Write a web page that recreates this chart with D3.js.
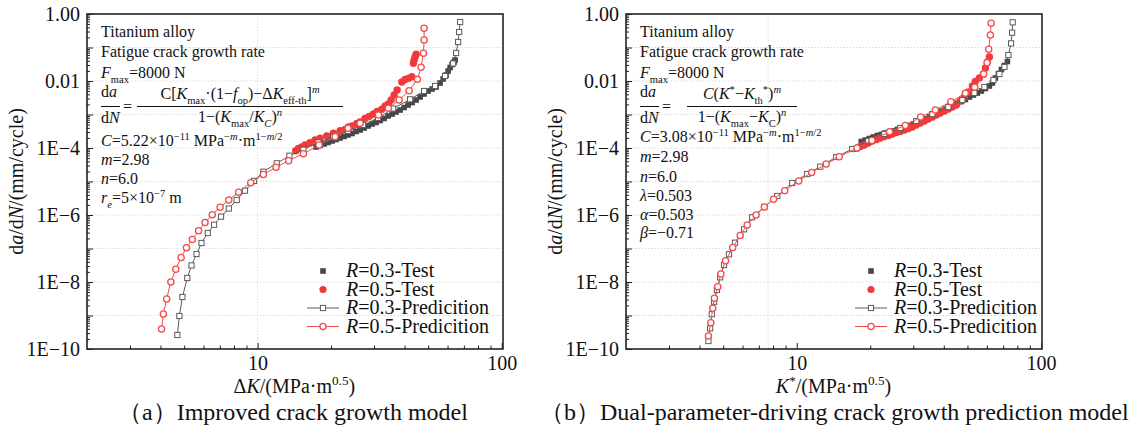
<!DOCTYPE html>
<html><head><meta charset="utf-8">
<script src="https://cdn.jsdelivr.net/npm/d3@7/dist/d3.min.js"></script>
<style>
body{margin:0;background:#fff}
svg{display:block}
text{font-family:"Liberation Serif","Times New Roman",serif;fill:#111}
</style>
</head><body>
<svg id="chart" width="1131" height="433"></svg>
<script>
// ---------- DATA ----------
const xMajorTicks = [10, 100];
const xMinorTicks = [3,4,5,6,7,8,9,20,30,40,50,60,70,80,90];
const yMajorTicks = [1,1e-1,1e-2,1e-3,1e-4,1e-5,1e-6,1e-7,1e-8,1e-9,1e-10];
const yLabelTicks = [1,1e-2,1e-4,1e-6,1e-8,1e-10];
const yTickLabels = ["1.00","0.01","1E\u22124","1E\u22126","1E\u22128","1E\u221210"];
const yGrid = [1e-1,1e-2,1e-3,1e-4,1e-5,1e-6,1e-7,1e-8,1e-9];
const xGridA = [10];
const xGridB = [7.64];

// Panel (a): improved crack growth model
const aPred03X = [4.69,4.78,4.92,5.15,5.36,5.62,5.89,6.25,6.63,7.08,7.62,8.21,8.88,9.67,10.56,11.98,13.50,15.40,17.74,20.38,23.48,27.05,31.16,35.91,42.15,48.10,53.37,58.66,63.24,65.06,66.30,66.93,67.57];
const aPred03Y = [2.62e-10,9.66e-10,3.57e-9,1.32e-8,3.11e-8,6.85e-8,1.46e-7,2.90e-7,5.13e-7,8.90e-7,1.56e-6,2.81e-6,5.31e-6,1.04e-5,1.96e-5,3.49e-5,5.89e-5,8.89e-5,1.48e-4,2.13e-4,3.22e-4,4.86e-4,7.86e-4,1.51e-3,2.84e-3,5.03e-3,7.09e-3,1.41e-2,3.33e-2,6.85e-2,0.146,0.290,0.577];
const aPred05X = [4.04,4.11,4.24,4.41,4.62,4.86,5.11,5.40,5.73,6.09,6.52,7.02,7.62,8.36,9.37,10.56,11.90,13.40,15.40,17.86,20.77,23.48,26.30,31.26,34.34,37.99,41.76,45.15,46.76,47.79,48.10,48.10];
const aPred05Y = [3.95e-10,1.11e-9,3.11e-9,1.0e-8,2.39e-8,5.38e-8,1.06e-7,1.86e-7,3.40e-7,5.97e-7,1.02e-6,1.70e-6,2.81e-6,4.76e-6,9.21e-6,1.62e-5,2.65e-5,4.18e-5,6.76e-5,1.23e-4,2.17e-4,3.87e-4,5.46e-4,9.66e-4,1.53e-3,2.71e-3,5.13e-3,1.12e-2,2.56e-2,6.71e-2,0.167,0.374];
const aTest03X = [17.36,18.03,18.72,19.44,20.19,20.97,21.78,22.61,23.48,24.38,25.32,26.30,27.31,28.36,29.44,30.58,31.76,32.98,34.24,35.56,36.93,38.35,39.83,41.36,42.95,44.60,46.32,48.10,49.94,51.87,53.87,55.94,57.54,59.20,60.33,61.48,62.65,63.84,64.45];
const aTest03Y = [1.07e-4,1.19e-4,1.32e-4,1.46e-4,1.62e-4,1.79e-4,1.99e-4,2.21e-4,2.45e-4,2.71e-4,3.11e-4,3.45e-4,3.95e-4,4.54e-4,5.20e-4,5.77e-4,6.62e-4,7.60e-4,9.02e-4,1.03e-3,1.19e-3,1.36e-3,1.62e-3,1.92e-3,2.28e-3,2.71e-3,3.33e-3,4.09e-3,5.03e-3,5.77e-3,6.62e-3,8.71e-3,1.15e-2,1.51e-2,1.99e-2,2.53e-2,3.11e-2,3.69e-2,4.24e-2];
const aTest05X = [14.33,14.69,15.17,15.65,16.40,17.20,18.03,19.20,20.43,21.78,22.83,23.55,24.38,25.49,26.30,27.56,28.63,29.81,30.87,32.28,33.30,34.34,35.24,36.25,37.29,38.97,40.21,41.48,42.82,43.48,43.77,44.19,44.60];
const aTest05Y = [8.30e-5,9.66e-5,1.07e-4,1.23e-4,1.44e-4,1.73e-4,1.95e-4,2.28e-4,2.75e-4,3.28e-4,3.56e-4,4.24e-4,4.54e-4,5.38e-4,5.97e-4,7.60e-4,8.71e-4,1.03e-3,1.23e-3,1.43e-3,1.79e-3,2.06e-3,2.71e-3,3.82e-3,5.38e-3,9.33e-3,1.11e-2,1.20e-2,1.34e-2,3.38e-2,4.24e-2,5.20e-2,6.27e-2];

// Panel (b): dual-parameter-driving model
const bPred03X = [4.35,4.42,4.49,4.59,4.71,4.86,5.04,5.28,5.59,6.09,6.57,7.36,8.32,9.58,11.04,12.48,14.51,16.88,19.62,22.83,26.55,30.87,35.91,41.76,47.64,53.37,58.66,63.84,67.56,70.83,73.55,75.44,76.15,76.59];
const bPred03Y = [1.73e-10,4.15e-10,1.09e-9,2.58e-9,5.77e-9,1.38e-8,3.21e-8,6.71e-8,1.49e-7,3.74e-7,8.54e-7,1.73e-6,3.69e-6,9.02e-6,1.67e-5,2.77e-5,5.39e-5,9.33e-5,1.62e-4,2.62e-4,3.95e-4,6.40e-4,1.03e-3,1.67e-3,2.71e-3,4.38e-3,6.62e-3,1.07e-2,1.62e-2,2.62e-2,5.97e-2,0.133,0.277,0.565];
const bPred05X = [4.35,4.45,4.53,4.60,4.75,4.89,5.11,5.47,5.87,6.27,6.82,7.37,8.03,8.93,10.19,11.51,13.20,14.93,17.64,20.32,24.00,27.82,32.15,36.93,42.74,49.02,53.52,58.27,60.16,61.07,62.06,62.48];
const bPred05Y = [2.45e-10,6.10e-10,1.64e-9,3.26e-9,7.24e-9,1.73e-8,4.32e-8,1.07e-7,2.44e-7,5.03e-7,1.0e-6,1.73e-6,2.94e-6,5.31e-6,1.04e-5,1.86e-5,3.33e-5,5.50e-5,1.0e-4,1.68e-4,3.07e-4,4.70e-4,8.42e-4,1.36e-3,2.41e-3,4.30e-3,6.49e-3,1.62e-2,3.52e-2,8.84e-2,0.236,0.528];
const bTest03X = [18.37,19.08,19.81,20.57,21.37,22.19,23.04,23.93,24.85,25.81,26.79,27.82,28.90,30.01,31.16,32.36,33.61,34.90,36.25,37.64,39.08,40.59,42.15,43.77,45.46,47.21,49.02,50.90,52.86,54.89,57.01,59.20,61.48,63.24,65.06,66.93,68.85,70.83,72.86];
const bTest03Y = [1.56e-4,1.73e-4,1.92e-4,2.13e-4,2.36e-4,2.53e-4,2.81e-4,3.00e-4,3.22e-4,3.56e-4,3.95e-4,4.24e-4,4.70e-4,5.20e-4,5.77e-4,6.40e-4,7.34e-4,8.42e-4,9.66e-4,1.11e-3,1.27e-3,1.46e-3,1.67e-3,1.92e-3,2.20e-3,2.44e-3,2.81e-3,3.33e-3,3.82e-3,4.38e-3,5.03e-3,5.97e-3,7.09e-3,8.71e-3,1.23e-2,1.67e-2,2.20e-2,2.90e-2,3.82e-2];
const bTest05X = [17.64,18.20,18.90,19.62,20.38,21.17,21.98,22.83,23.71,24.61,25.56,26.55,27.56,28.63,29.72,30.87,32.06,33.30,34.57,35.91,37.29,38.71,40.21,41.76,43.36,45.03,46.76,48.56,50.43,52.36,53.87,55.94,58.10,59.20,60.33,61.48];
const bTest05Y = [9.79e-5,1.11e-4,1.23e-4,1.41e-4,1.62e-4,1.79e-4,1.99e-4,2.21e-4,2.36e-4,2.62e-4,2.90e-4,3.11e-4,3.45e-4,3.82e-4,4.24e-4,4.86e-4,5.57e-4,6.40e-4,7.34e-4,8.42e-4,9.66e-4,1.11e-3,1.27e-3,1.46e-3,1.67e-3,1.92e-3,2.53e-3,3.33e-3,4.70e-3,7.09e-3,9.66e-3,1.23e-2,1.62e-2,2.45e-2,3.69e-2,5.20e-2];

const legendLabels = ["$R$=0.3-Test","$R$=0.5-Test","$R$=0.3-Predicition","$R$=0.5-Predicition"];
const notesA = ["Titanium alloy","Fatigue crack growth rate","$F$_{max}=8000 N"];
const notesA2 = ["$C$=5.22×10^{\u221211} MPa^{\u2212$m$}·m^{1\u2212$m$/2}","$m$=2.98","$n$=6.0","$r$_{$e$}=5×10^{\u22127} m"];
const notesB = ["Titanium alloy","Fatigue crack growth rate","$F$_{max}=8000 N"];
const notesB2 = ["$C$=3.08×10^{\u221211} MPa^{\u2212$m$}·m^{1\u2212$m$/2}","$m$=2.98","$n$=6.0","$λ$=0.503","$α$=0.503","$β$=\u22120.71"];

// ---------- STYLE ----------
const C_GRAY_T = "#474747", C_GRAY_P = "#5a5a5a", C_RED_T = "#f03a3a", C_RED_P = "#f24c4c";

const svg = d3.select("#chart");

function rich(sel, str, size){
  const runs=[]; let it=false, lvl=0, buf='';
  const push=()=>{ if(buf){ runs.push({t:buf,it,lvl}); buf=''; } };
  for(let k=0;k<str.length;k++){
    const c=str[k];
    if(c==='$'){ push(); it=!it; }
    else if((c==='_'||c==='^') && str[k+1]==='{'){ push(); lvl = c==='_'?-1:1; k++; }
    else if(c==='}' && lvl!==0){ push(); lvl=0; }
    else buf+=c;
  }
  push();
  let cur=0;
  runs.forEach(r=>{
    const shift = r.lvl===-1 ? size*0.3 : (r.lvl===1 ? -size*0.38 : 0);
    const ts = sel.append("tspan").text(r.t).attr("dy", shift-cur)
      .attr("font-size", r.lvl ? size*0.66 : size);
    if(r.it) ts.attr("font-style","italic");
    cur = shift;
  });
  return sel;
}
function rtext(g, x, y, str, size, anchor){
  const t = g.append("text").attr("x",x).attr("y",y).attr("font-size",size)
    .attr("text-anchor",anchor||"start");
  rich(t, str, size);
  return t;
}

function panel(opt){
  const {left,right,top,bottom,boxRight} = opt;
  const x = d3.scaleLog().domain([2,100]).range([left,right]);
  const y = d3.scaleLog().domain([1e-10,1]).range([bottom,top]);
  const g = svg.append("g");

  // grid
  g.append("g").selectAll("line").data(yGrid).join("line")
    .attr("x1",left).attr("x2",boxRight).attr("y1",d=>y(d)).attr("y2",d=>y(d))
    .attr("stroke","#c8c8c8").attr("stroke-width",0.8).attr("stroke-dasharray","1.2,2");
  g.append("g").selectAll("line").data(opt.xGrid).join("line")
    .attr("y1",top).attr("y2",bottom).attr("x1",d=>x(d)).attr("x2",d=>x(d))
    .attr("stroke","#c8c8c8").attr("stroke-width",0.8).attr("stroke-dasharray","1.2,2");

  // axes
  g.append("g").attr("transform",`translate(0,${bottom})`)
    .call(d3.axisBottom(x).tickValues(xMajorTicks).tickFormat(d3.format("d")).tickSizeInner(-6).tickSizeOuter(0).tickPadding(7));
  g.append("g").attr("transform",`translate(0,${bottom})`)
    .call(d3.axisBottom(x).tickValues(xMinorTicks).tickFormat("").tickSizeInner(-3.5).tickSizeOuter(0));
  g.append("g").attr("transform",`translate(${left},0)`)
    .call(d3.axisLeft(y).tickValues(yLabelTicks).tickFormat((d,i)=>yTickLabels[i]).tickSizeInner(-6).tickSizeOuter(0).tickPadding(7));
  g.append("g").attr("transform",`translate(${left},0)`)
    .call(d3.axisLeft(y).tickValues(yMajorTicks).tickFormat("").tickSizeInner(-6).tickSizeOuter(0));
  const minorY=[];
  for(let e=-10;e<0;e++) for(let k=2;k<10;k++) minorY.push(k*Math.pow(10,e));
  g.append("g").attr("transform",`translate(${left},0)`)
    .call(d3.axisLeft(y).tickValues(minorY).tickFormat("").tickSizeInner(-3).tickSizeOuter(0));
  g.selectAll(".domain").remove();
  g.selectAll(".tick line").attr("stroke","#222").attr("stroke-width",1);
  g.selectAll(".tick text").attr("font-family",'"Liberation Serif",serif').attr("font-size",20).attr("fill","#111");

  // frame
  g.append("rect").attr("x",left).attr("y",top).attr("width",boxRight-left).attr("height",bottom-top)
    .attr("fill","none").attr("stroke","#222").attr("stroke-width",1.6);

  const pts = (X,Y)=>X.map((v,i)=>[v,Y[i]]);
  const line = d3.line().x(d=>x(d[0])).y(d=>y(d[1]));

  // test data
  g.append("g").selectAll("rect").data(pts(opt.t03x,opt.t03y)).join("rect")
    .attr("x",d=>x(d[0])-2.8).attr("y",d=>y(d[1])-2.8).attr("width",5.6).attr("height",5.6).attr("fill",C_GRAY_T);
  g.append("g").selectAll("circle").data(pts(opt.t05x,opt.t05y)).join("circle")
    .attr("cx",d=>x(d[0])).attr("cy",d=>y(d[1])).attr("r",3.7).attr("fill",C_RED_T);

  // predictions
  const p03 = pts(opt.p03x,opt.p03y), p05 = pts(opt.p05x,opt.p05y);
  g.append("path").attr("d",line(p03)).attr("fill","none").attr("stroke",C_GRAY_P).attr("stroke-width",1);
  g.append("g").selectAll("rect").data(p03).join("rect")
    .attr("x",d=>x(d[0])-2.6).attr("y",d=>y(d[1])-2.6).attr("width",5.2).attr("height",5.2)
    .attr("fill","#fff").attr("stroke",C_GRAY_P).attr("stroke-width",1);
  g.append("path").attr("d",line(p05)).attr("fill","none").attr("stroke",C_RED_P).attr("stroke-width",1);
  g.append("g").selectAll("circle").data(p05).join("circle")
    .attr("cx",d=>x(d[0])).attr("cy",d=>y(d[1])).attr("r",3.1)
    .attr("fill","#fff").attr("stroke",C_RED_P).attr("stroke-width",1.3);

  // axis titles
  const ty = g.append("text").attr("transform",`translate(${left-64},${(top+bottom)/2}) rotate(-90)`)
    .attr("text-anchor","middle").attr("font-size",20);
  rich(ty, "d$a$/d$N$/(mm/cycle)", 20);
  rtext(g, (left+right)/2, 393, opt.xTitle, 20, "middle");
  rtext(g, opt.capX, 420, opt.caption, 24, "start");

  // annotations
  const nx = left+14;
  opt.notes.forEach((s,i)=> rtext(g, nx, [37,57,78][i], s, 16));
  // formula
  rtext(g, nx, 97, "d$a$", 16);
  rtext(g, nx, 123, "d$N$", 16);
  g.append("line").attr("x1",nx).attr("x2",nx+19).attr("y1",106.5).attr("y2",106.5).attr("stroke","#111").attr("stroke-width",1);
  rtext(g, nx+22, 112, "=", 16);
  g.append("line").attr("x1",opt.fracL).attr("x2",opt.fracR).attr("y1",106.5).attr("y2",106.5).attr("stroke","#111").attr("stroke-width",1);
  rtext(g, (opt.fracL+opt.fracR)/2, 99, opt.num, 16, "middle");
  rtext(g, (opt.fracL+opt.fracR)/2, 122, opt.den, 16, "middle");
  opt.notes2.forEach((s,i)=> rtext(g, nx, opt.notes2Y[i], s, 16));

  // legend
  const lx = opt.legX;
  const ly = [271, 289.5, 308, 326.5];
  legendLabels.forEach((s,i)=>{
    rtext(g, lx+23, ly[i]+6, s, 20);
  });
  g.append("rect").attr("x",lx-2.8).attr("y",ly[0]-2.8).attr("width",5.6).attr("height",5.6).attr("fill",C_GRAY_T);
  g.append("circle").attr("cx",lx).attr("cy",ly[1]).attr("r",3.6).attr("fill",C_RED_T);
  g.append("line").attr("x1",lx-16).attr("x2",lx+16).attr("y1",ly[2]).attr("y2",ly[2]).attr("stroke",C_GRAY_P);
  g.append("rect").attr("x",lx-2.6).attr("y",ly[2]-2.6).attr("width",5.2).attr("height",5.2).attr("fill","#fff").attr("stroke",C_GRAY_P);
  g.append("line").attr("x1",lx-16).attr("x2",lx+16).attr("y1",ly[3]).attr("y2",ly[3]).attr("stroke",C_RED_P);
  g.append("circle").attr("cx",lx).attr("cy",ly[3]).attr("r",3.1).attr("fill","#fff").attr("stroke",C_RED_P).attr("stroke-width",1.3);
}

panel({left:87,right:501.7,boxRight:503,top:14,bottom:349,xGrid:xGridA,
  p03x:aPred03X,p03y:aPred03Y,p05x:aPred05X,p05y:aPred05Y,t03x:aTest03X,t03y:aTest03Y,t05x:aTest05X,t05y:aTest05Y,
  xTitle:"Δ$K$/(MPa·m^{0.5})", caption:"（a）Improved crack growth model", capX:118,
  notes:notesA, notes2:notesA2, notes2Y:[146,165,184,203],
  fracL:137, fracR:343,
  num:"C[$K$_{max}·(1\u2212$f$_{op})\u2212Δ$K$_{eff-th}]^{$m$}",
  den:"1\u2212($K$_{max}/$K$_{$C$})^{$n$}",
  legX:323});
panel({left:626,right:1041,boxRight:1042,top:14,bottom:349,xGrid:xGridB,
  p03x:bPred03X,p03y:bPred03Y,p05x:bPred05X,p05y:bPred05Y,t03x:bTest03X,t03y:bTest03Y,t05x:bTest05X,t05y:bTest05Y,
  xTitle:"$K$^{*}/(MPa·m^{0.5})", caption:"（b）Dual-parameter-driving crack growth prediction model", capX:540,
  notes:notesB, notes2:notesB2, notes2Y:[142,162,182,201,220,238],
  fracL:687, fracR:797,
  num:"$C$($K$^{*}\u2212$K$_{th}^{*})^{$m$}",
  den:"1\u2212($K$_{max}\u2212$K$_{C})^{$n$}",
  legX:871});
</script>
</body></html>
